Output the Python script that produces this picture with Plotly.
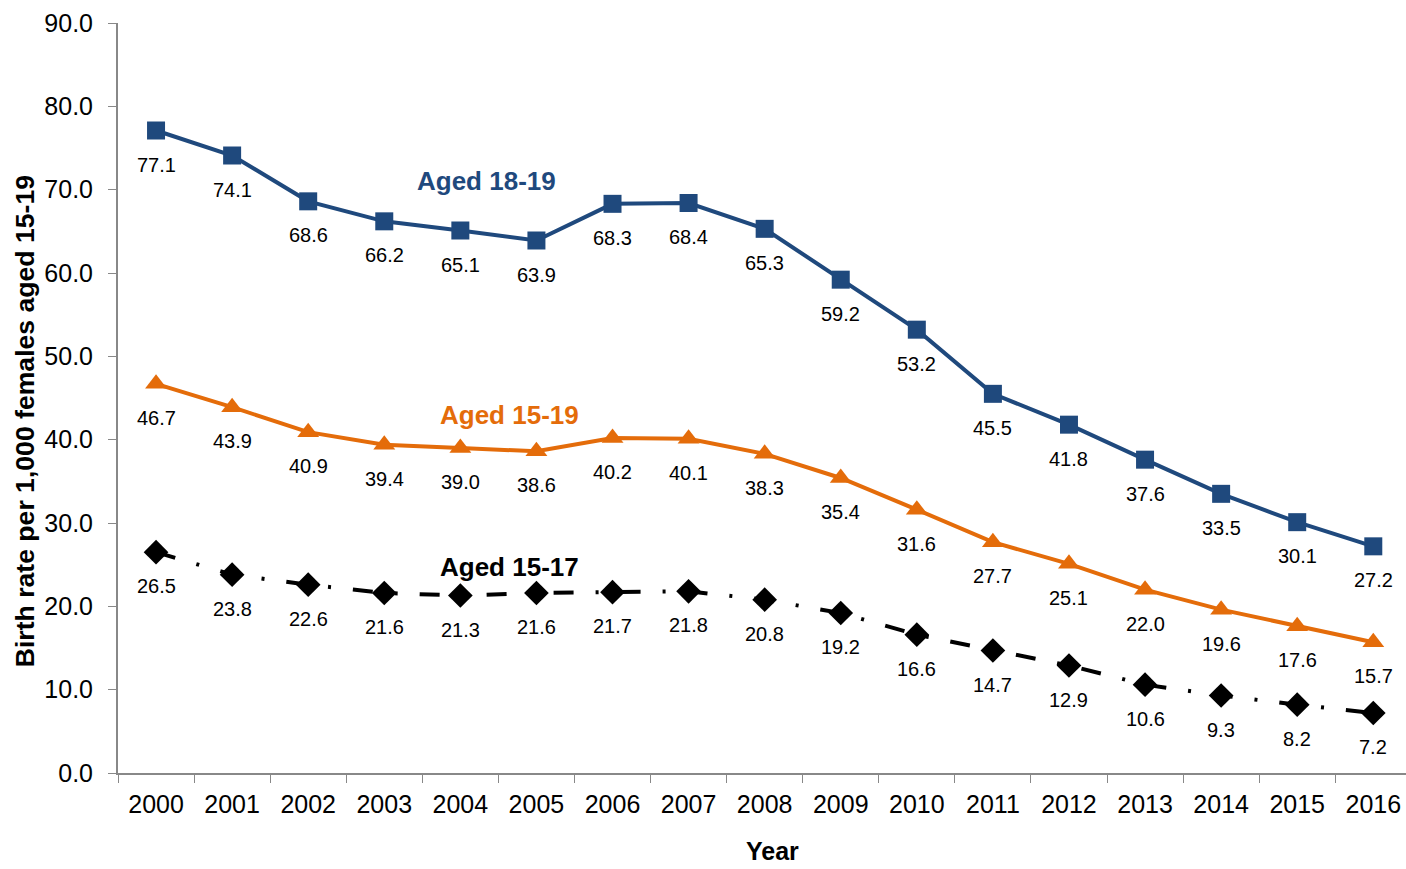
import plotly.graph_objects as go

years = [str(y) for y in range(2000, 2017)]
aged_18_19 = [77.1, 74.1, 68.6, 66.2, 65.1, 63.9, 68.3, 68.4, 65.3, 59.2, 53.2, 45.5, 41.8, 37.6, 33.5, 30.1, 27.2]
aged_15_19 = [46.7, 43.9, 40.9, 39.4, 39.0, 38.6, 40.2, 40.1, 38.3, 35.4, 31.6, 27.7, 25.1, 22.0, 19.6, 17.6, 15.7]
aged_15_17 = [26.5, 23.8, 22.6, 21.6, 21.3, 21.6, 21.7, 21.8, 20.8, 19.2, 16.6, 14.7, 12.9, 10.6, 9.3, 8.2, 7.2]

BLUE = "#1F497D"
ORANGE = "#E46C0A"
BLACK = "#000000"
FONT = "Liberation Sans, Arial, sans-serif"

series = [
    ("Aged 18-19", aged_18_19, BLUE, "square", 18, "solid", (4.34, 71.0)),
    ("Aged 15-19", aged_15_19, ORANGE, "triangle-up", 19, "solid", (4.65, 43.0)),
    ("Aged 15-17", aged_15_17, BLACK, "diamond", 19, "20px,22px,3px,22px", (4.65, 24.7)),
]

fig = go.Figure()
annotations = []
for name, vals, color, symbol, msize, dash, (lx, ly) in series:
    fig.add_trace(go.Scatter(
        x=years, y=vals, mode="lines+markers", name=name,
        line=dict(color=color, width=4, dash=dash),
        marker=dict(symbol=symbol, size=msize, color=color),
        showlegend=False,
    ))
    # value labels under each point (category index positions)
    for i, v in enumerate(vals):
        annotations.append(dict(
            x=i, y=v, text=f"{v:.1f}", showarrow=False, yshift=-34,
            font=dict(family=FONT, size=20, color="#000000"),
        ))
    annotations.append(dict(
        x=lx, y=ly, text=f"<b>{name}</b>", showarrow=False,
        font=dict(family=FONT, size=26, color=color),
    ))

# axis titles
annotations.append(dict(
    xref="paper", yref="paper", x=-0.0722, y=0.469, xanchor="center", yanchor="middle",
    text="<b>Birth rate per 1,000 females aged 15-19</b>", textangle=-90, showarrow=False,
    font=dict(family=FONT, size=26.6, color="#000000"),
))
annotations.append(dict(
    xref="paper", yref="paper", x=0.5078, y=-0.1035, xanchor="center", yanchor="middle",
    text="<b>Year</b>", showarrow=False, borderpad=0,
    font=dict(family=FONT, size=25, color="#000000"),
))

fig.update_layout(
    width=1406, height=869,
    margin=dict(l=118, r=0, t=23, b=96),
    paper_bgcolor="white", plot_bgcolor="white",
    font=dict(family=FONT, color="#000000"),
    annotations=annotations,
)
fig.update_xaxes(
    type="category", range=[-0.5, 16.43],
    tickson="boundaries", ticks="outside", ticklen=8, tickcolor="#888888",
    showline=True, linecolor="#888888", linewidth=2, showgrid=False,
    tickfont=dict(family=FONT, size=25), ticklabelstandoff=8,
)
fig.update_yaxes(
    range=[0, 90], dtick=10, tickformat=".1f",
    ticks="outside", ticklen=8, tickcolor="#888888",
    showline=True, linecolor="#888888", linewidth=2, showgrid=False, zeroline=False,
    tickfont=dict(family=FONT, size=25), ticklabelstandoff=10,
)

fig.write_html("out.html")
